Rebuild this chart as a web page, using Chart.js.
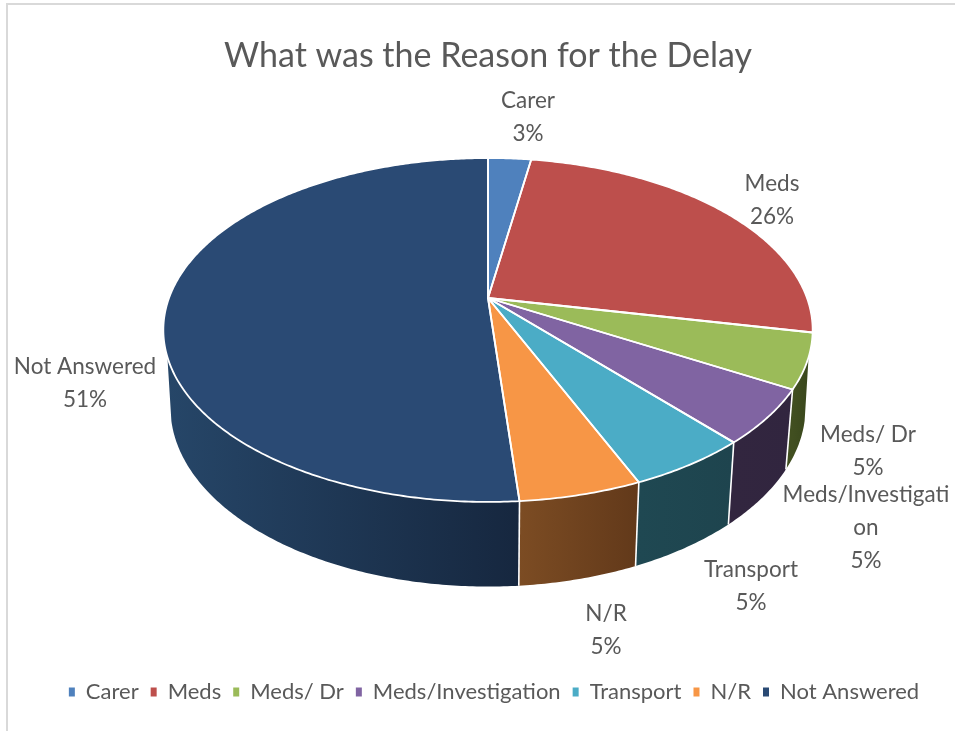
<!DOCTYPE html>
<html>
<head>
<meta charset="utf-8">
<title>What was the Reason for the Delay</title>
<script src="https://cdn.jsdelivr.net/npm/chart.js@4"></script>
<style>
    html, body { margin: 0; padding: 0; background: #fff; overflow: hidden; }
    #frame { position: absolute; left: 6px; top: 3px; right: 0; bottom: 0; border-left: 2px solid #d9d9d9; border-top: 2px solid #d9d9d9; }
    #delayChart { position: absolute; left: 0; top: 0; }
</style>
</head>
<body>
<div id="frame"></div>
<canvas id="delayChart" width="955" height="731"></canvas>
<script>
const chartTitle = 'What was the Reason for the Delay';
const categories = ['Carer', 'Meds', 'Meds/ Dr', 'Meds/Investigation', 'Transport', 'N/R', 'Not Answered'];
const responses = [1, 10, 2, 2, 2, 2, 20];

const topColors = ['#4f81bd', '#bd4f4c', '#9bbb59', '#8064a2', '#4bacc6', '#f79646', '#2a4a74'];
// side wall shading, left end then right end
const wallColors = [
    null,
    null,
    ['#414f20', '#39471c'],
    ['#32263f', '#31253f'],
    ['#1f4852', '#1e444e'],
    ['#7c4c23', '#62391a'],
    ['#264668', '#16273f']
];

// label text blocks: centre x, first line y
const labelSpots = [
    { x: 528, y: 101, lines: ['Carer'] },
    { x: 772, y: 184, lines: ['Meds'] },
    { x: 868, y: 435, lines: ['Meds/ Dr'] },
    { x: 866, y: 495, lines: ['Meds/Investigati', 'on'] },
    { x: 751, y: 570, lines: ['Transport'] },
    { x: 606, y: 614, lines: ['N/R'] },
    { x: 85, y: 367, lines: ['Not Answered'] }
];

const textColor = '#595959';
const fontName = 'Lato, "Open Sans", sans-serif';

// perspective of the disc: apex is where the slices meet
const tilt = 0.186;
const topFace = { cx: 488, cy: 298, rx: 319, ry: 166 };
const bottomFace = { cx: 488, cy: 374, rx: 312, ry: 173 };
const wallStart = 19.5 * Math.PI / 180;
const wallEnd = 160.5 * Math.PI / 180;
const floorStart = 15 * Math.PI / 180;
const floorEnd = 165 * Math.PI / 180;

function project(face, angle) {
    const w = 1 - tilt * Math.sin(angle);
    return {
        x: face.cx + face.rx * Math.cos(angle) / w,
        y: face.cy + face.ry * Math.sin(angle) / w
    };
}

function traceArc(ctx, face, from, to, first) {
    const steps = Math.max(2, Math.ceil(Math.abs(to - from) / 0.01));
    for (let i = 0; i <= steps; i++) {
        const p = project(face, from + (to - from) * i / steps);
        if (i === 0 && first) ctx.moveTo(p.x, p.y);
        else ctx.lineTo(p.x, p.y);
    }
}

function drawWalls(ctx, arcs) {
    arcs.forEach((arc, i) => {
        if (!wallColors[i]) return;
        const from = Math.max(arc.startAngle, wallStart);
        const to = Math.min(arc.endAngle, wallEnd);
        if (to <= from) return;
        const floorFrom = from === wallStart ? floorStart : from;
        const floorTo = to === wallEnd ? floorEnd : to;

        const a = project(topFace, to);
        const b = project(topFace, from);
        const grad = ctx.createLinearGradient(Math.min(a.x, b.x), 0, Math.max(a.x, b.x), 0);
        grad.addColorStop(0, wallColors[i][0]);
        grad.addColorStop(1, wallColors[i][1]);

        ctx.beginPath();
        traceArc(ctx, topFace, from, to, true);
        traceArc(ctx, bottomFace, floorTo, floorFrom, false);
        ctx.closePath();
        ctx.fillStyle = grad;
        ctx.fill();

        // white seams between the wall pieces
        if (from !== wallStart) {
            const p = project(topFace, from);
            const q = project(bottomFace, from);
            ctx.beginPath();
            ctx.moveTo(p.x, p.y);
            ctx.lineTo(q.x, q.y);
            ctx.strokeStyle = '#fff';
            ctx.lineWidth = 1.6;
            ctx.stroke();
        }
    });
}

function drawTop(ctx, arcs) {
    arcs.forEach((arc, i) => {
        ctx.beginPath();
        ctx.moveTo(topFace.cx, topFace.cy);
        traceArc(ctx, topFace, arc.startAngle, arc.endAngle, false);
        ctx.closePath();
        ctx.fillStyle = topColors[i];
        ctx.fill();
    });
    arcs.forEach(arc => {
        ctx.beginPath();
        ctx.moveTo(topFace.cx, topFace.cy);
        traceArc(ctx, topFace, arc.startAngle, arc.endAngle, false);
        ctx.closePath();
        ctx.strokeStyle = '#fff';
        ctx.lineWidth = 1.8;
        ctx.lineJoin = 'round';
        ctx.stroke();
    });
}

function drawLabels(ctx) {
    const total = responses.reduce((sum, v) => sum + v, 0);
    ctx.font = '400 22.5px ' + fontName;
    ctx.fillStyle = textColor;
    ctx.textAlign = 'center';
    ctx.textBaseline = 'middle';
    labelSpots.forEach((spot, i) => {
        const lines = spot.lines.concat(Math.round(responses[i] / total * 100) + '%');
        lines.forEach((line, n) => ctx.fillText(line, spot.x, spot.y + n * 33));
    });
}

// the library works out the slice angles, this draws them tilted like the 3D original
const tiltedPie = {
    id: 'tiltedPie',
    afterLayout(chart) {
        // legend sits a little right of the title in the original
        chart.legend.left += 6;
        chart.legend.right += 6;
    },
    beforeDatasetsDraw(chart) {
        const ctx = chart.ctx;
        const arcs = chart.getDatasetMeta(0).data;
        ctx.save();
        drawWalls(ctx, arcs);
        drawTop(ctx, arcs);
        drawLabels(ctx);
        ctx.restore();
        return false;
    }
};

new Chart(document.getElementById('delayChart'), {
    type: 'pie',
    data: {
        labels: categories,
        datasets: [{
            data: responses,
            backgroundColor: topColors,
            borderWidth: 0
        }]
    },
    options: {
        responsive: false,
        animation: false,
        layout: { padding: { left: 21, bottom: 18 } },
        plugins: {
            tooltip: { enabled: false },
            title: {
                display: true,
                text: chartTitle,
                color: textColor,
                font: { family: fontName, size: 34, weight: '400' },
                padding: { top: 36, bottom: 0 }
            },
            legend: {
                position: 'bottom',
                labels: {
                    color: textColor,
                    font: { family: fontName, size: 22 },
                    usePointStyle: true,
                    pointStyle: 'rect',
                    pointStyleWidth: 6,
                    boxHeight: 9,
                    padding: 12
                }
            }
        }
    },
    plugins: [tiltedPie]
});
</script>
</body>
</html>
